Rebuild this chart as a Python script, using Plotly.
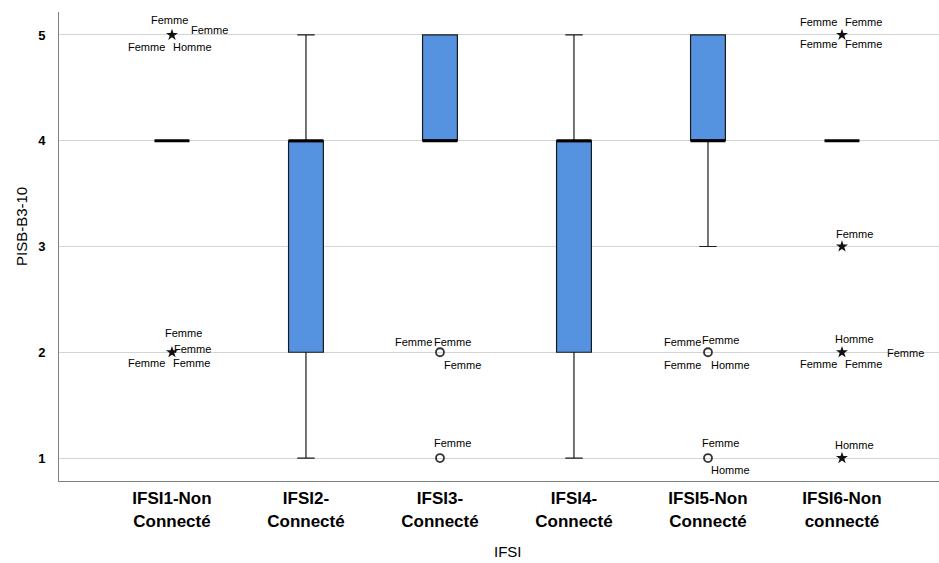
import plotly.graph_objects as go

# ---------------- data ----------------
categories = ["IFSI1-Non<br>Connecté", "IFSI2-<br>Connecté", "IFSI3-<br>Connecté",
              "IFSI4-<br>Connecté", "IFSI5-Non<br>Connecté", "IFSI6-Non<br>connecté"]
q1 = [4, 2, 4, 2, 4, 4]
median = [4, 4, 4, 4, 4, 4]
q3 = [4, 4, 5, 4, 5, 4]
lower_whisker = [4, 1, 4, 1, 3, 4]
upper_whisker = [4, 5, 5, 5, 5, 4]

# outliers: group index, value, kind ("extreme" = star, "outlier" = circle)
outlier_group = [0, 0, 2, 2, 4, 4, 5, 5, 5, 5]
outlier_value = [5, 2, 2, 1, 2, 1, 5, 3, 2, 1]
outlier_kind = ["extreme", "extreme", "outlier", "outlier", "outlier", "outlier",
                "extreme", "extreme", "extreme", "extreme"]
outlier_labels = [
    ["Femme", "Femme", "Femme", "Homme"],
    ["Femme", "Femme", "Femme", "Femme"],
    ["Femme", "Femme", "Femme"],
    ["Femme"],
    ["Femme", "Femme", "Femme", "Homme"],
    ["Femme", "Homme"],
    ["Femme", "Femme", "Femme", "Femme"],
    ["Femme"],
    ["Homme", "Femme", "Femme", "Femme"],
    ["Homme"],
]

# ---------------- styling (label offsets in pixels) ----------------
label_offsets = [
    [(-2, 15), (38, 5), (-25, -12), (21, -12)],
    [(12, 19), (21, 3), (-25, -11), (20, -11)],
    [(-26, 10), (13, 10), (23, -13)],
    [(13, 15)],
    [(-25, 10), (13, 12), (-25, -13), (23, -13)],
    [(13, 15), (23, -12)],
    [(-23, 13), (22, 13), (-23, -9), (22, -9)],
    [(13, 13)],
    [(13, 13), (64, -1), (-23, -12), (22, -12)],
    [(13, 13)],
]

FONT = "Liberation Sans, Arial, sans-serif"
BOX_FILL = "#5592e0"
BOX_W = 0.26

fig = go.Figure()

xs = list(range(len(categories)))
fig.add_trace(go.Box(
    x=xs, q1=q1, median=median, q3=q3,
    lowerfence=lower_whisker, upperfence=upper_whisker,
    width=BOX_W, whiskerwidth=0.5,
    fillcolor=BOX_FILL, line=dict(color="#1a1a1a", width=1.2),
    boxpoints=False, showlegend=False, hoverinfo="skip",
))

# thick median lines
for i, m in enumerate(median):
    fig.add_shape(type="line", xref="x", yref="y",
                  x0=i - BOX_W / 2, x1=i + BOX_W / 2, y0=m, y1=m,
                  line=dict(color="black", width=3))

# outlier markers
for kind, sym, size, lw in [("extreme", "star", 9, 0), ("outlier", "circle-open", 8, 1.8)]:
    gx = [g for g, k in zip(outlier_group, outlier_kind) if k == kind]
    gy = [v for v, k in zip(outlier_value, outlier_kind) if k == kind]
    fig.add_trace(go.Scatter(
        x=gx, y=gy, mode="markers", showlegend=False, hoverinfo="skip",
        marker=dict(symbol=sym, size=size, color="#111" if kind == "extreme" else "#333",
                    line=dict(width=lw, color="#333")),
    ))

# outlier labels
for g, v, labs, offs in zip(outlier_group, outlier_value, outlier_labels, label_offsets):
    for t, (dx, dy) in zip(labs, offs):
        fig.add_annotation(x=g, y=v, xref="x", yref="y", text=t, showarrow=False,
                           xshift=dx, yshift=dy, font=dict(size=11, color="black", family=FONT))

# axis titles
fig.add_annotation(xref="paper", yref="paper", x=(508 - 59) / 880, y=0, yshift=-70,
                   yanchor="middle", xanchor="center",
                   text="IFSI", showarrow=False, font=dict(size=15, color="black", family=FONT))
fig.add_annotation(xref="paper", yref="paper", x=0, xshift=-38, y=(481 - 227) / 469,
                   xanchor="center", yanchor="middle",
                   text="PISB-B3-10", textangle=-90, showarrow=False,
                   font=dict(size=15, color="black", family=FONT))

fig.update_layout(
    width=939, height=563,
    margin=dict(l=59, r=0, t=12, b=82),
    paper_bgcolor="white", plot_bgcolor="white",
    font=dict(family=FONT, color="black"),
    xaxis=dict(
        range=[-0.843, 5.724], tickmode="array", tickvals=xs,
        ticktext=["<b>" + c + "</b>" for c in categories],
        tickfont=dict(size=17, color="black", family=FONT), automargin=False,
        showgrid=False, zeroline=False, showline=True, linecolor="#808080", linewidth=1,
        ticks="outside", ticklen=2, tickcolor="rgba(0,0,0,0)",
    ),
    yaxis=dict(
        range=[0.783, 5.217], tickmode="array", tickvals=[1, 2, 3, 4, 5],
        ticktext=["<b>%d</b>" % v for v in [1, 2, 3, 4, 5]],
        tickfont=dict(size=13, color="black", family=FONT), automargin=False,
        showgrid=True, gridcolor="#d4d4d4", gridwidth=1,
        zeroline=False, showline=True, linecolor="#808080", linewidth=1,
        ticks="outside", ticklen=10, tickcolor="rgba(0,0,0,0)",
    ),
)

fig.write_html("out.html", config={"displayModeBar": False},
               post_script="document.body.style.margin='0';document.body.style.padding='0';")
